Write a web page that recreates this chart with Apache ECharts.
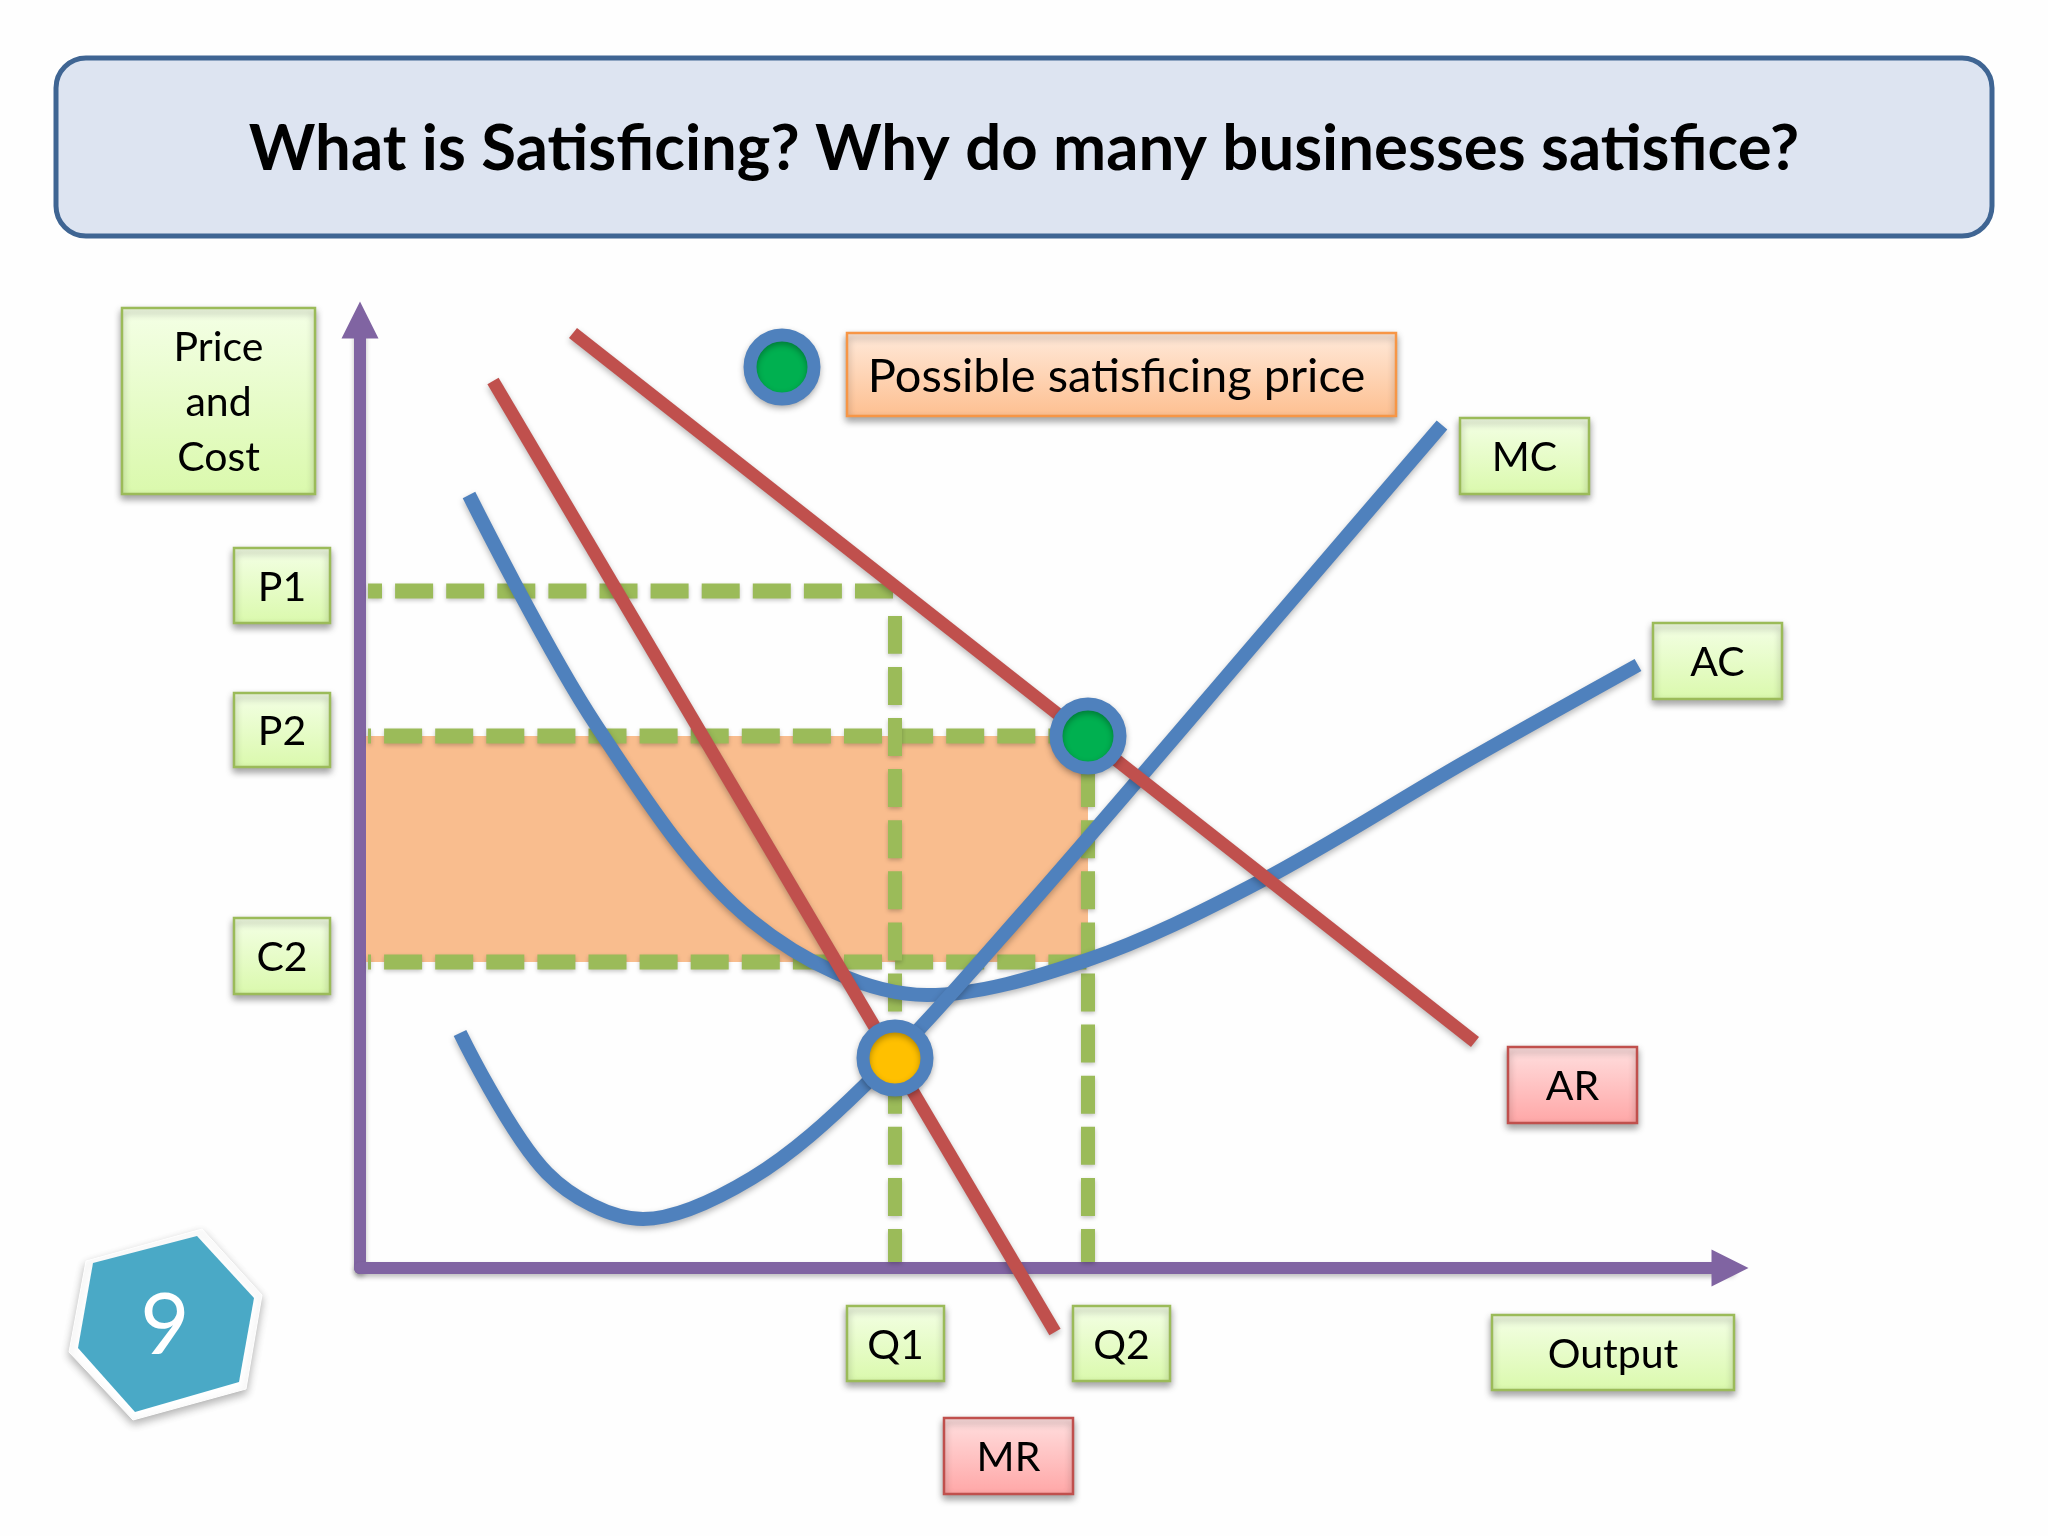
<!DOCTYPE html>
<html><head><meta charset="utf-8">
<script src="https://cdn.jsdelivr.net/npm/echarts@6/dist/echarts.min.js"></script>
<style>html,body{margin:0;padding:0;background:#fefefe}#c{width:2048px;height:1536px}</style>
</head><body><div id="c"></div>
<script>
// Diagram values, in axis units (the diagram has no numeric scale)
const titleText = 'What is Satisficing? Why do many businesses satisfice?';
const P1 = 677, P2 = 532, C2 = 306, Q1 = 535, Q2 = 728;
const mcCurve = [[100,235],[187,95],[283,49],[392,90],[504,182],[660,352],[925,660],[1082,843]];
const acCurve = [[109,773],[236,543],[392,347],[567,273],[727,308],[899,386],[1105,506],[1278,603]];
const arLine = [[213,935],[1115,226]];
const mrLine = [[133,887],[695,-64]];
const legendDot = [422,901];
const greenLabels = ['P1','P2','C2','Q1','Q2','MC','AC','Output'];
const redLabels = ['AR','MR'];
const priceLabel = 'Price\nand\nCost';
const legendLabel = 'Possible satisficing price';
const pageNumber = '9';

const FONT = 'Lato';
const PURPLE = '#8064a2', BLUE = '#4f81bd', RED = '#c0504d', GREEN = '#9bbb59';
const lineShadow = {shadowBlur:6, shadowColor:'rgba(0,0,0,0.28)', shadowOffsetY:3};

function grad(a,b){return {type:'linear',x:0,y:0,x2:0,y2:1,colorStops:[{offset:0,color:a},{offset:1,color:b}]};}
const paints = {
  green:{fill:grad('#f4ffe6','#daf9ac'),stroke:'#9bbb59'},
  red:{fill:grad('#ffe0e0','#ffa6a6'),stroke:'#c0504d'},
  orange:{fill:grad('#ffeadb','#fdbf90'),stroke:'#f79646'}
};
function box(x0,y0,x1,y1,text,paint,size,lh,dx){
  const p = paints[paint];
  return [{type:'rect',z:20,shape:{x:x0,y:y0,width:x1-x0,height:y1-y0},
    style:{fill:p.fill,stroke:p.stroke,lineWidth:2.5,shadowBlur:7,shadowColor:'rgba(0,0,0,0.35)',shadowOffsetY:4}},
    {type:'text',z:21,x:(x0+x1)/2+(dx||0),y:(y0+y1)/2+2,
    style:{text:text,fill:'#000',font:(size||41)+'px '+FONT,lineHeight:lh||undefined,textAlign:'center',textVerticalAlign:'middle'}}];
}
const slots = {P1:[234,548,330,623],P2:[234,693,330,767],C2:[234,918,330,994],Q1:[847,1306,944,1381],Q2:[1073,1306,1170,1381],
  MC:[1460,418,1589,494],AC:[1653,623,1782,699],Output:[1492,1315,1734,1390],AR:[1508,1047,1637,1123],MR:[944,1418,1073,1494]};
let g = [
 {type:'rect',z:20,shape:{x:56,y:58,width:1936,height:178,r:30},style:{fill:'#dde4f1',stroke:'#3f6593',lineWidth:5}},
 {type:'text',z:21,x:1024,y:150,style:{text:titleText,fill:'#000',font:'bold 63.5px '+FONT,textAlign:'center',textVerticalAlign:'middle'}},
 {type:'polygon',z:20,shape:{points:[[202,1229],[262,1295],[246,1389],[133,1420],[69,1352],[86,1261]]},
   style:{fill:'#fff',stroke:'#fff',lineWidth:1,lineJoin:'round',shadowBlur:9,shadowColor:'rgba(0,0,0,0.3)',shadowOffsetY:4}},
 {type:'polygon',z:20,shape:{points:[[197,1236],[254,1298],[239,1382],[135,1412],[78,1348],[93,1263]]},
   style:{fill:'#4aa9c6'}},
 {type:'text',z:21,x:165,y:1327,style:{text:pageNumber,fill:'#fff',font:'85px '+FONT,textAlign:'center',textVerticalAlign:'middle'}}
];
greenLabels.forEach(t=>{const s=slots[t];g=g.concat(box(s[0],s[1],s[2],s[3],t,'green'));});
redLabels.forEach(t=>{const s=slots[t];g=g.concat(box(s[0],s[1],s[2],s[3],t,'red'));});
g=g.concat(box(122,308,315,494,priceLabel,'green',41,55));
g=g.concat(box(847,333,1396,416,legendLabel,'orange',47,0,-5));

function curve(data,color,z,smooth,w){return {type:'line',data:data,symbol:'none',clip:false,z:z,smooth:smooth||false,
  lineStyle:Object.assign({color:color,width:w,cap:'butt'},lineShadow)};}
function dash(data,offset,w){return {type:'line',data:data,symbol:'none',clip:false,z:3,
  lineStyle:{color:GREEN,width:w,type:[38,13.1],dashOffset:offset,cap:'butt',shadowBlur:4,shadowColor:'rgba(0,0,0,0.22)',shadowOffsetY:2}};}
function dot(pt,color){return {type:'scatter',data:[pt],symbol:'circle',symbolSize:64,z:9,clip:false,
  itemStyle:{color:color,borderColor:BLUE,borderWidth:13,opacity:1,shadowBlur:6,shadowColor:'rgba(0,0,0,0.3)',shadowOffsetY:3}};}

const axisBase = {min:0,axisTick:{show:false},axisLabel:{show:false},splitLine:{show:false},
  axisLine:{show:true,onZero:false,symbol:['none','triangle'],symbolSize:[37,37],lineStyle:{color:PURPLE,width:12,shadowBlur:5,shadowColor:'rgba(0,0,0,0.25)',shadowOffsetY:3}}};

const chart = echarts.init(document.getElementById('c'),null,{renderer:'canvas'});
chart.setOption({
  animation:false,
  backgroundColor:'#fefefe',
  grid:{left:360,top:320,width:1370,height:948},
  xAxis:Object.assign({type:'value',max:1370},axisBase),
  yAxis:Object.assign({type:'value',max:948},axisBase),
  graphic:g,
  series:[
    {type:'line',data:[],z:1,markArea:{silent:true,itemStyle:{color:'#f9bd8e',opacity:1},data:[[{coord:[6,P2]},{coord:[Q2,C2]}]]}},
    dash([[8,P1],[Q1,P1]],24,15),
    dash([[8,P2],[Q2,P2]],35,15),
    dash([[8,C2],[Q2,C2]],35,15),
    dash([[Q1,6],[Q1,652]],5,14),
    dash([[Q2,6],[Q2,P2]],5,14),
    curve(acCurve,BLUE,5,0.33,14),
    curve(mcCurve,BLUE,5,0.33,14),
    curve(arLine,RED,6,false,13),
    curve(mrLine,RED,6,false,13),
    dot(legendDot,'#00b050'),
    dot([Q2,P2],'#00b050'),
    dot([Q1,210],'#ffc000')
  ]
});
</script></body></html>
